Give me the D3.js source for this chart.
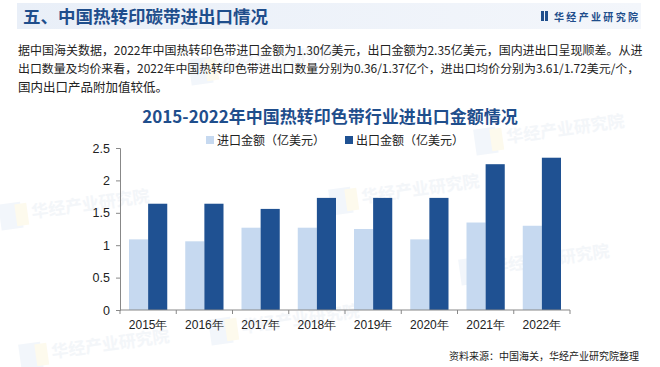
<!DOCTYPE html>
<html><head><meta charset="utf-8">
<script src="https://cdn.jsdelivr.net/npm/d3@7/dist/d3.min.js"></script>
<style>
body{margin:0;background:#fff;}
svg{display:block;font-family:"Noto Sans CJK SC","Noto Sans",sans-serif;}
</style></head>
<body><svg id="c" width="660" height="367"></svg>
<script>
const years = ["2015年","2016年","2017年","2018年","2019年","2020年","2021年","2022年"];
const importVals = [1.09,1.06,1.27,1.27,1.25,1.09,1.35,1.30];
const exportVals = [1.64,1.64,1.56,1.73,1.73,1.73,2.25,2.35];
const seriesNames = ["进口金额（亿美元）","出口金额（亿美元）"];
const yTicks = [0,0.5,1,1.5,2,2.5];
const headerTitle = "五、中国热转印碳带进出口情况";
const chartTitle = "2015-2022年中国热转印色带行业进出口金额情况";
const bodyLines = [
 "据中国海关数据，2022年中国热转印色带进口金额为1.30亿美元，出口金额为2.35亿美元，国内进出口呈现顺差。从进",
 "出口数量及均价来看，2022年中国热转印色带进出口数量分别为0.36/1.37亿个，进出口均价分别为3.61/1.72美元/个，",
 "国内出口产品附加值较低。"
];
const source = "资料来源：中国海关，华经产业研究院整理";
const brand = "华经产业研究院";

const svg = d3.select("#c");
const colors = ["#c6d9f0","#1f5192"];
const dark = "#1f4e8c";

// watermarks
const wm = [[230,70],[370,200],[40,215],[500,270],[250,330],[515,140],[60,355]];
wm.forEach(([x,y])=>{
  const g = svg.append("g").attr("transform",`translate(${x},${y}) rotate(-8)`).attr("opacity",0.5);
  g.append("rect").attr("x",-40).attr("y",-16).attr("width",22).attr("height",26).attr("fill","#e6eef8");
  g.append("rect").attr("x",-24).attr("y",-14).attr("width",12).attr("height",22).attr("fill","#fdf6dc");
  g.append("text").attr("x",-8).attr("y",2).attr("font-size",17).attr("font-weight","bold").attr("fill","#e9eef5").text(brand);
});

// header band
const hg = svg.append("defs").append("linearGradient").attr("id","hg").attr("x1",0).attr("x2",1);
hg.append("stop").attr("offset","0").attr("stop-color","#e9eff8");
hg.append("stop").attr("offset","1").attr("stop-color","#f3f6fb");
svg.append("rect").attr("x",17).attr("y",3).attr("width",624).attr("height",26).attr("fill","url(#hg)");
svg.append("text").attr("x",23).attr("y",23).attr("font-size",17.5).attr("font-weight","bold").attr("fill",dark).text(headerTitle);
// brand logo
svg.append("rect").attr("x",541).attr("y",11).attr("width",3).attr("height",10).attr("fill",dark);
svg.append("rect").attr("x",545).attr("y",11).attr("width",3).attr("height",10).attr("fill",dark);
svg.append("text").attr("x",554).attr("y",20.5).attr("font-size",10).attr("font-weight","bold").attr("fill",dark)
  .attr("textLength",84).attr("lengthAdjust","spacing").text(brand);

// body text, sized to fit the reference widths
const bodyLens = [625,622,null];
bodyLines.forEach((t,i)=>{
  const tx = svg.append("text").attr("x",18).attr("y",55+i*18.3).attr("font-size",12.5).attr("fill","#222").text(t);
  if(bodyLens[i]){
    const w = tx.node().getComputedTextLength();
    tx.attr("font-size", 12.5*bodyLens[i]/w);
  }
});

// chart title
svg.append("text").attr("x",330).attr("y",123).attr("text-anchor","middle").attr("font-size",17).attr("font-weight","bold")
  .attr("fill",dark).text(chartTitle);

// legend
const legX = [206,345];
seriesNames.forEach((n,i)=>{
  svg.append("rect").attr("x",legX[i]).attr("y",136).attr("width",8).attr("height",8).attr("fill",colors[i]);
  svg.append("text").attr("x",legX[i]+11).attr("y",144.5).attr("font-size",12).attr("fill","#222").text(n);
});

// scales
const x = d3.scaleBand().domain(years).range([120,570]).paddingInner(0.32).paddingOuter(0.16);
const x1 = d3.scaleBand().domain([0,1]).range([0,x.bandwidth()]);
const y = d3.scaleLinear().domain([0,2.5]).range([310,148]);

// bars
const data = years.map((yr,i)=>({yr, v:[importVals[i],exportVals[i]]}));
const gb = svg.append("g");
data.forEach(d=>{
  d.v.forEach((v,j)=>{
    gb.append("rect").attr("x",x(d.yr)+x1(j)).attr("y",y(v)).attr("width",x1.bandwidth()).attr("height",y(0)-y(v)).attr("fill",colors[j]);
  });
});

// y axis
const ya = svg.append("g").attr("transform","translate(120,0)")
  .call(d3.axisLeft(y).tickValues(yTicks).tickFormat(d3.format("")).tickSize(4).tickPadding(6));
ya.select(".domain").attr("stroke","#888");
ya.selectAll(".tick line").attr("stroke","#888");
ya.selectAll("text").attr("font-size",12.5).attr("fill","#222").attr("font-family","Liberation Sans, Arial, sans-serif");

// x axis
const xa = svg.append("g").attr("transform","translate(0,310)")
  .call(d3.axisBottom(x).tickSize(0).tickPadding(10));
xa.select(".domain").attr("stroke","#888").attr("d","M120,0H570");
xa.selectAll("text").attr("font-size",12).attr("fill","#222");
const step = x.step();
d3.range(0,years.length+1).forEach(i=>{
  xa.append("line").attr("x1",120+i*step).attr("x2",120+i*step).attr("y1",0).attr("y2",4).attr("stroke","#888");
});

// source
svg.append("text").attr("x",639).attr("y",360).attr("text-anchor","end").attr("font-size",10).attr("fill","#222").text(source);
</script></body></html>
